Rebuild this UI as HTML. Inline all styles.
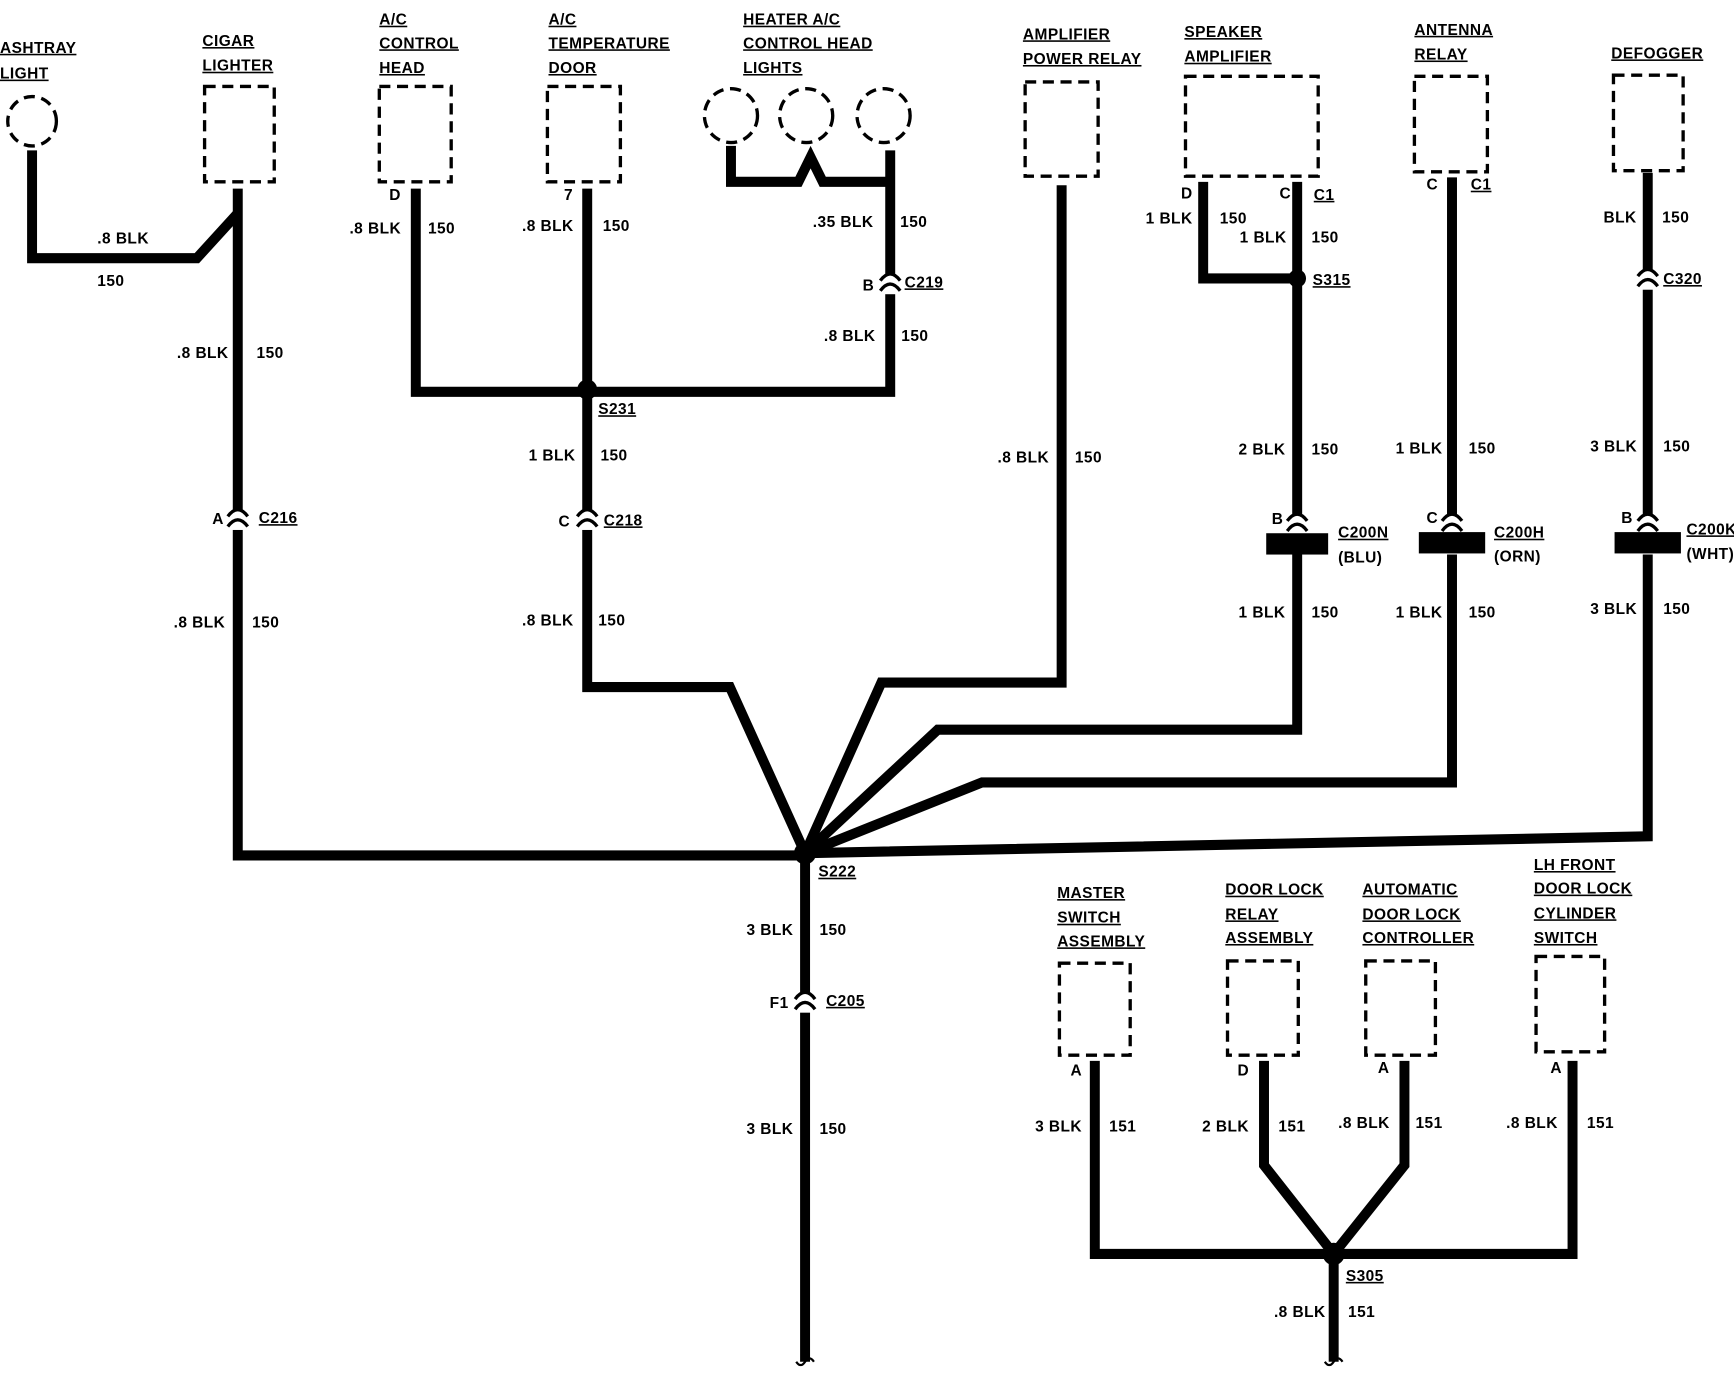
<!DOCTYPE html>
<html><head><meta charset="utf-8"><style>
html,body{margin:0;padding:0;background:#fff;}
svg{display:block;}
text{font-family:"Liberation Sans",sans-serif;font-weight:bold;font-size:14px;fill:#000;letter-spacing:0.4px;}
.u{text-decoration:underline;}
</style></head><body>
<svg width="1734" height="1392" viewBox="0 0 1568 1240" preserveAspectRatio="none" xmlns="http://www.w3.org/2000/svg">
<defs>
<g id="cx"><path d="M-9,4 Q0,-8 9,4" fill="none" stroke="#000" stroke-width="3"/><path d="M-9,13 Q0,1 9,13" fill="none" stroke="#000" stroke-width="3"/></g>
</defs>
<g fill="none" stroke="#000" stroke-width="3" stroke-dasharray="10,6">
<circle cx="29" cy="108" r="22"/>
<rect x="185" y="77" width="63" height="85"/>
<rect x="343" y="77" width="65" height="85"/>
<rect x="495" y="77" width="66" height="85"/>
<circle cx="661" cy="103" r="24"/><circle cx="729" cy="103" r="24"/><circle cx="799" cy="103" r="24"/>
<rect x="927" y="73" width="66" height="84"/>
<rect x="1072" y="68" width="120" height="89"/>
<rect x="1279" y="68" width="66" height="85"/>
<rect x="1459" y="67" width="63" height="85"/>
<rect x="958" y="858" width="64" height="82"/>
<rect x="1110" y="856" width="64" height="84"/>
<rect x="1235" y="856" width="63" height="84"/>
<rect x="1389" y="852" width="62" height="85"/>
</g>
<g fill="none" stroke="#000" stroke-width="9" stroke-linejoin="miter">
<path d="M29,134 V230 H178 L215,190"/>
<path d="M215,168 V454 M215,472 V762 H728"/>
<path d="M376,168 V349 H805 V262 M805,244 V134"/>
<path d="M661,130 V162 H722 L733,140 L744,162 H801"/>
<path d="M531,168 V454 M531,472 V612 H660 L728,760"/>
<path d="M960,165 V608 H797 L728,760"/>
<path d="M1088,162 V248 H1173"/>
<path d="M1173,162 V458 M1173,494 V650 H848 L728,760"/>
<path d="M1313,158 V458 M1313,494 V697 H888 L728,760"/>
<path d="M1490,154 V240 M1490,258 V458 M1490,494 V745 L728,760"/>
<path d="M728,760 V884 M728,902 V1213"/>
<path d="M990,945 V1117 H1422 V945"/>
<path d="M1143,945 V1038 L1206,1117 L1270,1038 V945"/>
<path d="M1206,1117 V1213"/>
</g>
<g fill="#fff" stroke="none">
<rect x="205" y="454" width="20" height="18"/><rect x="521" y="454" width="20" height="18"/>
<rect x="795" y="244" width="20" height="18"/><rect x="1480" y="240" width="20" height="18"/>
<rect x="718" y="884" width="20" height="18"/>
</g>
<use href="#cx" x="215" y="456"/><use href="#cx" x="531" y="456"/><use href="#cx" x="805" y="246"/>
<use href="#cx" x="1490" y="242"/><use href="#cx" x="728" y="886"/>
<use href="#cx" x="1173" y="460"/><use href="#cx" x="1313" y="460"/><use href="#cx" x="1490" y="460"/>
<g fill="#000">
<rect x="1145" y="475" width="56" height="19"/><rect x="1283" y="474" width="60" height="19"/><rect x="1460" y="474" width="60" height="19"/>
<circle cx="728" cy="760" r="10"/><circle cx="531" cy="347" r="9"/><circle cx="1173" cy="248" r="8"/><circle cx="1206" cy="1117" r="10"/>
</g>
<g fill="none" stroke="#000" stroke-width="2">
<path d="M720,1213 q4,6 8,0 q4,-6 8,0"/><path d="M1198,1213 q4,6 8,0 q4,-6 8,0"/>
</g>
<text x="0" y="47" class="u">ASHTRAY</text><text x="0" y="70" class="u">LIGHT</text>
<text x="183" y="41" class="u">CIGAR</text><text x="183" y="63" class="u">LIGHTER</text>
<text x="343" y="22" class="u">A/C</text><text x="343" y="43" class="u">CONTROL</text><text x="343" y="65" class="u">HEAD</text>
<text x="496" y="22" class="u">A/C</text><text x="496" y="43" class="u">TEMPERATURE</text><text x="496" y="65" class="u">DOOR</text>
<text x="672" y="22" class="u">HEATER A/C</text><text x="672" y="43" class="u">CONTROL HEAD</text><text x="672" y="65" class="u">LIGHTS</text>
<text x="925" y="35" class="u">AMPLIFIER</text><text x="925" y="57" class="u">POWER RELAY</text>
<text x="1071" y="33" class="u">SPEAKER</text><text x="1071" y="55" class="u">AMPLIFIER</text>
<text x="1279" y="31" class="u">ANTENNA</text><text x="1279" y="53" class="u">RELAY</text>
<text x="1457" y="52" class="u">DEFOGGER</text>
<text x="956" y="800" class="u">MASTER</text><text x="956" y="822" class="u">SWITCH</text><text x="956" y="843" class="u">ASSEMBLY</text>
<text x="1108" y="797" class="u">DOOR LOCK</text><text x="1108" y="819" class="u">RELAY</text><text x="1108" y="840" class="u">ASSEMBLY</text>
<text x="1232" y="797" class="u">AUTOMATIC</text><text x="1232" y="819" class="u">DOOR LOCK</text><text x="1232" y="840" class="u">CONTROLLER</text>
<text x="1387" y="775" class="u">LH FRONT</text><text x="1387" y="796" class="u">DOOR LOCK</text><text x="1387" y="818" class="u">CYLINDER</text><text x="1387" y="840" class="u">SWITCH</text>

<text x="88" y="217">.8 BLK</text><text x="88" y="255">150</text>
<text x="160" y="319">.8 BLK</text><text x="232" y="319">150</text>
<text x="192" y="467">A</text><text x="234" y="466" class="u">C216</text>
<text x="157" y="559">.8 BLK</text><text x="228" y="559">150</text>
<text x="352" y="178">D</text><text x="316" y="208">.8 BLK</text><text x="387" y="208">150</text>
<text x="510" y="178">7</text><text x="472" y="206">.8 BLK</text><text x="545" y="206">150</text>
<text x="541" y="369" class="u">S231</text>
<text x="478" y="410">1 BLK</text><text x="543" y="410">150</text>
<text x="505" y="469">C</text><text x="546" y="468" class="u">C218</text>
<text x="472" y="557">.8 BLK</text><text x="541" y="557">150</text>
<text x="735" y="202">.35 BLK</text><text x="814" y="202">150</text>
<text x="780" y="259">B</text><text x="818" y="256" class="u">C219</text>
<text x="745" y="304">.8 BLK</text><text x="815" y="304">150</text>
<text x="902" y="412">.8 BLK</text><text x="972" y="412">150</text>
<text x="1068" y="177">D</text><text x="1157" y="177">C</text><text x="1188" y="178" class="u">C1</text>
<text x="1036" y="199">1 BLK</text><text x="1103" y="199">150</text>
<text x="1121" y="216">1 BLK</text><text x="1186" y="216">150</text>
<text x="1187" y="254" class="u">S315</text>
<text x="1120" y="405">2 BLK</text><text x="1186" y="405">150</text>
<text x="1150" y="467">B</text><text x="1210" y="479" class="u">C200N</text><text x="1210" y="501">(BLU)</text>
<text x="1120" y="550">1 BLK</text><text x="1186" y="550">150</text>
<text x="1290" y="169">C</text><text x="1330" y="169" class="u">C1</text>
<text x="1262" y="404">1 BLK</text><text x="1328" y="404">150</text>
<text x="1290" y="466">C</text><text x="1351" y="479" class="u">C200H</text><text x="1351" y="500">(ORN)</text>
<text x="1262" y="550">1 BLK</text><text x="1328" y="550">150</text>
<text x="1450" y="198">BLK</text><text x="1503" y="198">150</text>
<text x="1504" y="253" class="u">C320</text>
<text x="1438" y="402">3 BLK</text><text x="1504" y="402">150</text>
<text x="1466" y="466">B</text><text x="1525" y="476" class="u">C200K</text><text x="1525" y="498">(WHT)</text>
<text x="1438" y="547">3 BLK</text><text x="1504" y="547">150</text>
<text x="740" y="781" class="u">S222</text>
<text x="675" y="833">3 BLK</text><text x="741" y="833">150</text>
<text x="696" y="898">F1</text><text x="747" y="896" class="u">C205</text>
<text x="675" y="1010">3 BLK</text><text x="741" y="1010">150</text>
<text x="968" y="958">A</text><text x="1119" y="958">D</text><text x="1246" y="956">A</text><text x="1402" y="956">A</text>
<text x="936" y="1008">3 BLK</text><text x="1003" y="1008">151</text>
<text x="1087" y="1008">2 BLK</text><text x="1156" y="1008">151</text>
<text x="1210" y="1005">.8 BLK</text><text x="1280" y="1005">151</text>
<text x="1362" y="1005">.8 BLK</text><text x="1435" y="1005">151</text>
<text x="1217" y="1141" class="u">S305</text>
<text x="1152" y="1173">.8 BLK</text><text x="1219" y="1173">151</text>
</svg>
</body></html>
